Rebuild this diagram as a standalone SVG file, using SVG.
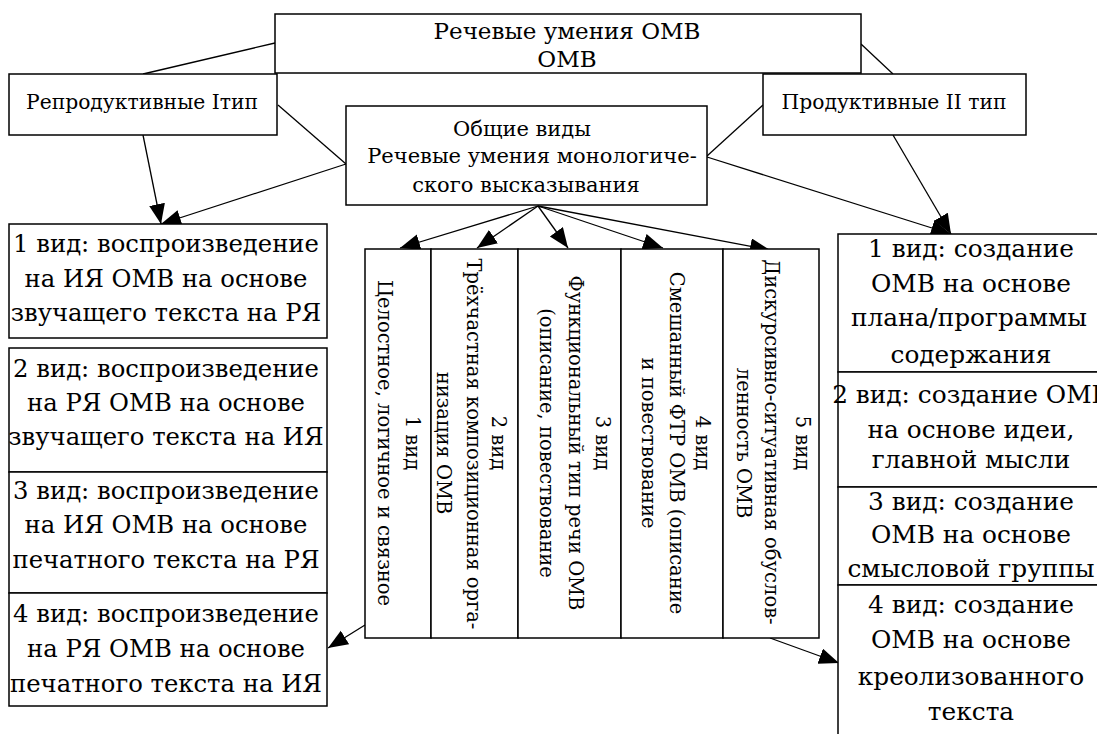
<svg xmlns="http://www.w3.org/2000/svg" width="1097" height="734" viewBox="0 0 1097 734">
<style>
.box{fill:#fff;stroke:#000;stroke-width:1.5}
.t{font-family:"DejaVu Serif","Liberation Serif",serif;fill:#000;text-anchor:middle}
.top{font-size:23px}
.typ{font-size:20.3px}
.gen{font-size:21px}
.col{font-size:19.5px}
.lb{font-size:24.3px}
.rb{font-size:24.8px}
.ln{stroke:#000;stroke-width:1.3;fill:none}
.ar{stroke:#000;stroke-width:1.3;fill:none;marker-end:url(#ah)}
</style>
<defs>
<marker id="ah" markerUnits="userSpaceOnUse" markerWidth="21" markerHeight="17" refX="20" refY="8" orient="auto">
<path d="M0,0 L20,8 L0,16 z" fill="#000"/>
</marker>
</defs>
<rect width="1097" height="734" fill="#fff"/>

<g id="connectors">
<line class="ln" x1="275" y1="43" x2="143" y2="74"/>
<line class="ln" x1="861" y1="44" x2="893" y2="74"/>
<line class="ln" x1="278" y1="105" x2="346" y2="164"/>
<line class="ln" x1="707" y1="156" x2="763" y2="105"/>
<line class="ar" x1="143" y1="135" x2="161" y2="224"/>
<line class="ar" x1="346" y1="164" x2="161" y2="224"/>
<line class="ar" x1="893" y1="135" x2="951" y2="234"/>
<line class="ar" x1="707" y1="157" x2="951" y2="234"/>
<line class="ar" x1="538" y1="206" x2="400" y2="248"/>
<line class="ar" x1="538" y1="206" x2="477" y2="248"/>
<line class="ar" x1="538" y1="206" x2="568" y2="248"/>
<line class="ar" x1="538" y1="206" x2="663" y2="248"/>
<line class="ar" x1="538" y1="206" x2="770" y2="250"/>
<line class="ar" x1="365" y1="625" x2="328" y2="648"/>
<line class="ar" x1="770" y1="638" x2="839" y2="663"/>
</g>

<g id="top">
<rect class="box" x="275" y="14" width="586" height="59"/>
<text class="t top" x="567" y="39">Речевые умения ОМВ</text>
<text class="t top" x="567" y="67">ОМВ</text>
</g>

<g id="repro">
<rect class="box" x="9" y="74" width="268" height="61"/>
<text class="t typ" x="142" y="109">Репродуктивные Iтип</text>
</g>

<g id="prod">
<rect class="box" x="763" y="74" width="263" height="61"/>
<text class="t typ" x="894" y="109">Продуктивные II тип</text>
</g>

<g id="general">
<rect class="box" x="346" y="106" width="361" height="99"/>
<text class="t gen" x="522" y="136">Общие виды</text>
<text class="t gen" x="532" y="163">Речевые умения монологиче-</text>
<text class="t gen" x="526" y="192">ского высказывания</text>
</g>

<g id="left1">
<rect class="box" x="9" y="224" width="318" height="114"/>
<text class="t lb" x="166" y="252">1 вид: воспроизведение</text>
<text class="t lb" x="166" y="287">на ИЯ ОМВ на основе</text>
<text class="t lb" x="166" y="321">звучащего текста на РЯ</text>
</g>
<g id="left2">
<rect class="box" x="9" y="348" width="318" height="124"/>
<text class="t lb" x="166" y="377">2 вид: воспроизведение</text>
<text class="t lb" x="166" y="411">на РЯ ОМВ на основе</text>
<text class="t lb" x="166" y="445">звучащего текста на ИЯ</text>
</g>
<g id="left3">
<rect class="box" x="9" y="472" width="318" height="121"/>
<text class="t lb" x="166" y="499">3 вид: воспроизведение</text>
<text class="t lb" x="166" y="533">на ИЯ ОМВ на основе</text>
<text class="t lb" x="166" y="568">печатного текста на РЯ</text>
</g>
<g id="left4">
<rect class="box" x="9" y="593" width="318" height="113"/>
<text class="t lb" x="166" y="622">4 вид: воспроизведение</text>
<text class="t lb" x="166" y="657">на РЯ ОМВ на основе</text>
<text class="t lb" x="166" y="692">печатного текста на ИЯ</text>
</g>

<g id="col1">
<rect class="box" x="365" y="249" width="66" height="389"/>
<text class="t col" transform="translate(406,443) rotate(90)">1 вид</text>
<text class="t col" transform="translate(378,443) rotate(90)">Целостное, логичное и связное</text>
</g>
<g id="col2">
<rect class="box" x="431" y="249" width="87" height="389"/>
<text class="t col" transform="translate(492,443) rotate(90)">2 вид</text>
<text class="t col" transform="translate(467,444) rotate(90)">Трёхчастная композиционная орга-</text>
<text class="t col" transform="translate(437,443) rotate(90)">низация ОМВ</text>
</g>
<g id="col3">
<rect class="box" x="518" y="249" width="103" height="389"/>
<text class="t col" transform="translate(596,443) rotate(90)">3 вид</text>
<text class="t col" transform="translate(569,443) rotate(90)">Функциональный тип речи ОМВ</text>
<text class="t col" transform="translate(540,443) rotate(90)">(описание, повествование</text>
</g>
<g id="col4">
<rect class="box" x="621" y="249" width="102" height="389"/>
<text class="t col" transform="translate(696,443) rotate(90)">4 вид</text>
<text class="t col" transform="translate(670,443) rotate(90)">Смешанный ФТР ОМВ (описание</text>
<text class="t col" transform="translate(642,443) rotate(90)">и повествование</text>
</g>
<g id="col5">
<rect class="box" x="723" y="249" width="96" height="389"/>
<text class="t col" transform="translate(796,443) rotate(90)">5 вид</text>
<text class="t col" transform="translate(765,442) rotate(90)">Дискурсивно-ситуативная обуслов-</text>
<text class="t col" transform="translate(737,443) rotate(90)">ленность ОМВ</text>
</g>

<g id="right1">
<rect class="box" x="838" y="234" width="267" height="138"/>
<text class="t rb" x="971" y="257">1 вид: создание</text>
<text class="t rb" x="971" y="292">ОМВ на основе</text>
<text class="t rb" x="969" y="326">плана/программы</text>
<text class="t rb" x="971" y="363">содержания</text>
</g>
<g id="right2">
<rect class="box" x="838" y="372" width="267" height="115"/>
<text class="t rb" x="971" y="403">2 вид: создание ОМВ</text>
<text class="t rb" x="971" y="438">на основе идеи,</text>
<text class="t rb" x="971" y="468">главной мысли</text>
</g>
<g id="right3">
<rect class="box" x="838" y="487" width="267" height="98"/>
<text class="t rb" x="971" y="510">3 вид: создание</text>
<text class="t rb" x="971" y="543">ОМВ на основе</text>
<text class="t rb" x="971" y="577">смысловой группы</text>
</g>
<g id="right4">
<rect class="box" x="838" y="585" width="267" height="160"/>
<text class="t rb" x="971" y="613">4 вид: создание</text>
<text class="t rb" x="971" y="648">ОМВ на основе</text>
<text class="t rb" x="971" y="685">креолизованного</text>
<text class="t rb" x="971" y="720">текста</text>
</g>
</svg>
